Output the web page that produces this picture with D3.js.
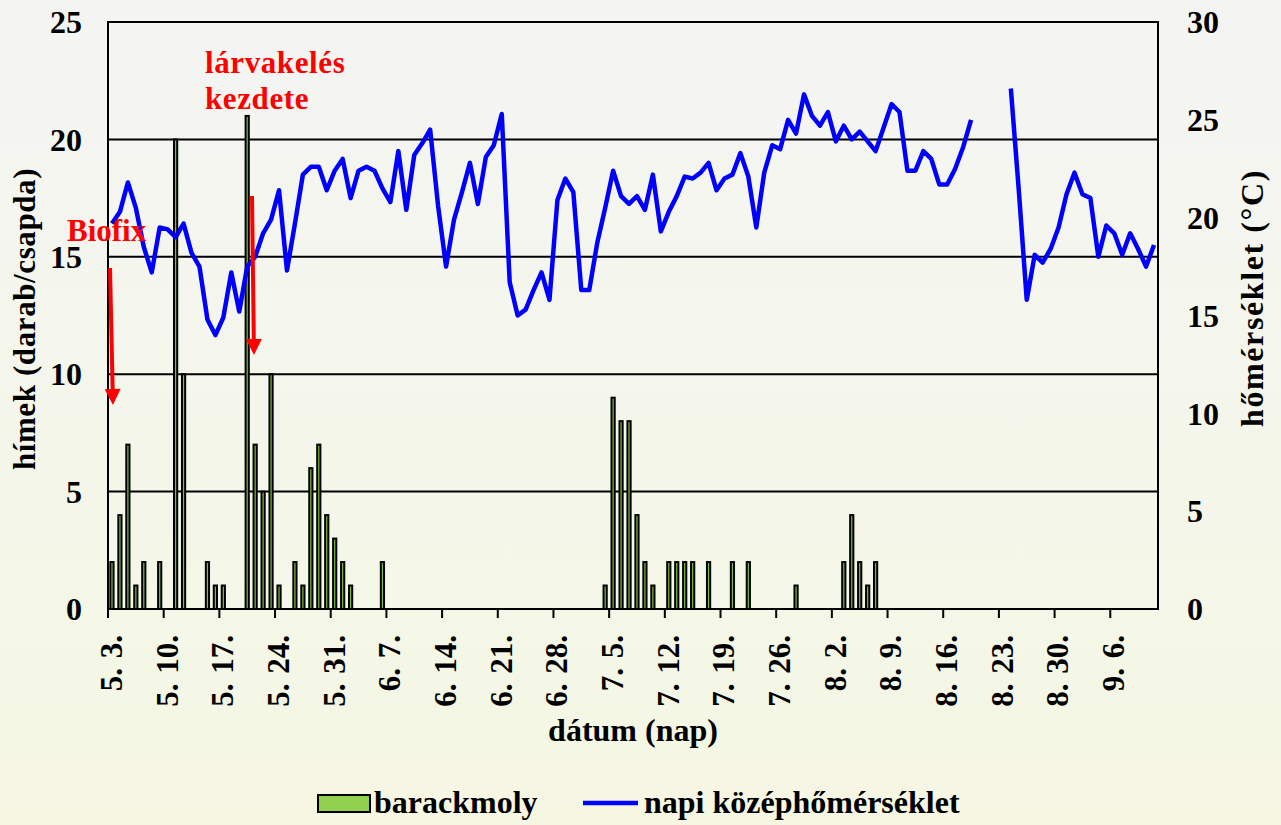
<!DOCTYPE html>
<html>
<head>
<meta charset="utf-8">
<script src="https://cdn.jsdelivr.net/npm/d3@7"></script>
<style>
  body { margin: 0; background: #f5f6ee; }
  text { font-family: "Liberation Serif", "Times New Roman", serif; font-weight: bold; }
</style>
</head>
<body>
<div id="chart"></div>
<script>
// chart data (days counted from 5. 3.)
var startDate = new Date(2020, 4, 3);
var dayCount = 132;

var trapDays = [0,1,2,3,4,6,8,9,12,13,14,17,18,19,20,21,23,24,25,26,27,28,29,30,34,
  62,63,64,65,66,67,68,70,71,72,73,75,78,80,86,92,93,94,95,96];
var trapCounts = [2,4,7,1,2,2,20,10,2,1,1,21,7,5,10,1,2,1,6,7,4,3,2,1,2,
  1,9,8,8,4,2,1,2,2,2,2,2,2,2,1,2,4,2,1,2];

// daily mean temperature, null = missing
var meanTemp = [19.7,20.3,21.8,20.5,18.5,17.2,19.5,19.4,19.0,19.7,
  18.2,17.5,14.8,14.0,14.9,17.2,15.2,17.5,18.0,19.2,
  19.9,21.4,17.3,19.7,22.2,22.6,22.6,21.4,22.4,23.0,
  21.0,22.4,22.6,22.4,21.5,20.8,23.4,20.4,23.2,23.8,
  24.5,20.6,17.5,19.9,21.3,22.8,20.7,23.1,23.7,25.3,
  16.7,15.0,15.3,16.3,17.2,15.8,20.9,22.0,21.3,16.3,
  16.3,18.7,20.5,22.4,21.1,20.7,21.1,20.4,22.2,19.3,
  20.3,21.1,22.1,22.0,22.3,22.8,21.4,22.0,22.2,23.3,
  22.1,19.5,22.3,23.7,23.5,25.0,24.3,26.3,25.2,24.7,
  25.4,23.9,24.7,24.0,24.4,23.9,23.4,24.6,25.8,25.4,
  22.4,22.4,23.4,23.0,21.7,21.7,22.5,23.6,25.0,null,
  null,null,null,26.6,21.4,15.8,18.1,17.7,18.4,19.5,
  21.2,22.3,21.2,21.0,18.0,19.6,19.2,18.1,19.2,18.4,
  17.5,18.6];

var leftTicks = [0,5,10,15,20,25];
var rightTicks = [0,5,10,15,20,25,30];
var tickDays = d3.range(0, 127, 7);

var svgWidth = 1281;
var svgHeight = 825;
var Margin = { top: 22, right: 123, bottom: 216, left: 108 };
var width = svgWidth - Margin.left - Margin.right;
var height = svgHeight - Margin.top - Margin.bottom;

var svg = d3.select("#chart").append("svg")
  .attr("width", svgWidth)
  .attr("height", svgHeight);

// background gradient
var grad = svg.append("defs").append("linearGradient")
  .attr("id", "bg").attr("x1", 0).attr("y1", 0).attr("x2", 0).attr("y2", 1);
grad.append("stop").attr("offset", "0%").attr("stop-color", "#f4f5f3");
grad.append("stop").attr("offset", "100%").attr("stop-color", "#f5f7e3");
svg.append("rect").attr("width", svgWidth).attr("height", svgHeight).attr("fill", "url(#bg)");

var chartGroup = svg.append("g")
  .attr("transform", `translate(${Margin.left}, ${Margin.top})`);

var xScale = d3.scaleLinear().domain([0, dayCount]).range([0, width]);
var yLeft = d3.scaleLinear().domain([0, 25]).range([height, 0]);
var yRight = d3.scaleLinear().domain([0, 30]).range([height, 0]);

// gridlines
chartGroup.append("g")
  .selectAll("line")
  .data(leftTicks)
  .enter().append("line")
  .attr("x1", 0).attr("x2", width)
  .attr("y1", d => yLeft(d)).attr("y2", d => yLeft(d))
  .attr("stroke", "#000").attr("stroke-width", 2);

// bars
var barW = 3.2;
chartGroup.append("g")
  .selectAll("rect")
  .data(trapDays)
  .enter().append("rect")
  .attr("x", d => xScale(d + 0.5) - barW / 2)
  .attr("y", (d, i) => yLeft(trapCounts[i]))
  .attr("width", barW)
  .attr("height", (d, i) => height - yLeft(trapCounts[i]))
  .attr("fill", "#7fbf3f")
  .attr("stroke", "#000")
  .attr("stroke-width", 2);

// temperature line
var tempLine = d3.line()
  .defined(d => d != null)
  .x((d, i) => xScale(i + 0.5))
  .y(d => yRight(d));

chartGroup.append("path")
  .datum(meanTemp)
  .attr("d", tempLine)
  .attr("fill", "none")
  .attr("stroke", "#0000ff")
  .attr("stroke-width", 4.5)
  .attr("stroke-linejoin", "round");

// plot frame
chartGroup.append("rect")
  .attr("width", width).attr("height", height)
  .attr("fill", "none").attr("stroke", "#000").attr("stroke-width", 2);

// x axis ticks and labels
var fmt = d3.timeFormat("%-m. %-d.");
var xTicks = chartGroup.append("g").attr("transform", `translate(0, ${height})`);
xTicks.selectAll("line")
  .data(tickDays)
  .enter().append("line")
  .attr("x1", d => xScale(d)).attr("x2", d => xScale(d))
  .attr("y1", 0).attr("y2", 9)
  .attr("stroke", "#000").attr("stroke-width", 2);
xTicks.selectAll("text")
  .data(tickDays)
  .enter().append("text")
  .attr("transform", d => `translate(${xScale(d) + 3}, 26) rotate(-90)`)
  .attr("dy", "0.35em")
  .attr("text-anchor", "end")
  .attr("font-size", "31px")
  .attr("word-spacing", "2px")
  .text(d => fmt(d3.timeDay.offset(startDate, d)));

// left axis labels
chartGroup.append("g")
  .selectAll("text")
  .data(leftTicks)
  .enter().append("text")
  .attr("x", -26).attr("y", d => yLeft(d))
  .attr("dy", "0.35em")
  .attr("text-anchor", "end")
  .attr("font-size", "32px")
  .text(d => d);

// right axis labels
chartGroup.append("g")
  .selectAll("text")
  .data(rightTicks)
  .enter().append("text")
  .attr("x", width + 29).attr("y", d => yRight(d))
  .attr("dy", "0.35em")
  .attr("font-size", "32px")
  .text(d => d);

// axis titles
svg.append("text")
  .attr("transform", "translate(35, 319) rotate(-90)")
  .attr("text-anchor", "middle")
  .attr("font-size", "31px")
  .attr("letter-spacing", "0.6px")
  .text("hímek (darab/csapda)");

svg.append("text")
  .attr("transform", "translate(1263, 298) rotate(-90)")
  .attr("text-anchor", "middle")
  .attr("font-size", "32px")
  .attr("letter-spacing", "1.6px")
  .text("hőmérséklet (°C)");

svg.append("text")
  .attr("x", 633).attr("y", 741)
  .attr("text-anchor", "middle")
  .attr("font-size", "32px")
  .text("dátum (nap)");

// annotations
var red = "#ff0000";
svg.append("text").attr("x", 67).attr("y", 241)
  .attr("font-size", "31px").attr("fill", red).text("Biofix");
svg.append("text").attr("x", 205).attr("y", 73)
  .attr("font-size", "31px").attr("letter-spacing", "0.6px").attr("fill", red).text("lárvakelés");
svg.append("text").attr("x", 205).attr("y", 109)
  .attr("font-size", "31px").attr("letter-spacing", "0.6px").attr("fill", red).text("kezdete");

function arrow(x1, y1, x2, y2) {
  var ang = Math.atan2(y2 - y1, x2 - x1);
  var hl = 16, hw = 8;
  var bx = x2 - hl * Math.cos(ang), by = y2 - hl * Math.sin(ang);
  svg.append("line")
    .attr("x1", x1).attr("y1", y1).attr("x2", bx).attr("y2", by)
    .attr("stroke", red).attr("stroke-width", 4);
  var px = -Math.sin(ang) * hw, py = Math.cos(ang) * hw;
  svg.append("path")
    .attr("d", `M${x2},${y2}L${bx + px},${by + py}L${bx - px},${by - py}Z`)
    .attr("fill", red);
}
arrow(110, 268, 113, 405);
arrow(252, 196, 254, 355);

// legend
var legend = svg.append("g");
legend.append("rect")
  .attr("x", 318).attr("y", 795).attr("width", 52).attr("height", 17)
  .attr("fill", "#92d050").attr("stroke", "#000").attr("stroke-width", 2);
legend.append("text").attr("x", 374).attr("y", 813)
  .attr("font-size", "32px").text("barackmoly");
legend.append("line")
  .attr("x1", 583).attr("x2", 638).attr("y1", 803).attr("y2", 803)
  .attr("stroke", "#0000ff").attr("stroke-width", 4.5);
legend.append("text").attr("x", 644).attr("y", 813)
  .attr("font-size", "32px").text("napi középhőmérséklet");
</script>
</body>
</html>
